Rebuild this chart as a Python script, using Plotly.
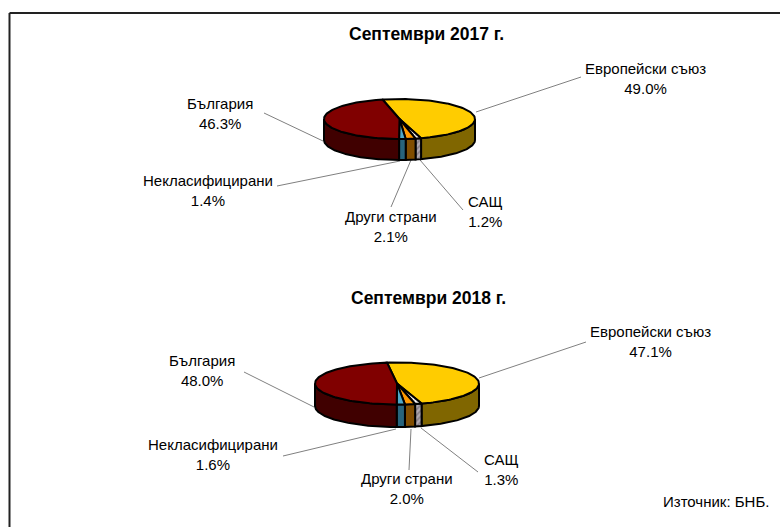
import numpy as np
import plotly.graph_objects as go

categories = ["Европейски съюз", "САЩ", "Други страни", "Некласифицирани", "България"]
values_2017 = [49.0, 1.2, 2.1, 1.4, 46.3]
values_2018 = [47.1, 1.3, 2.0, 1.6, 48.0]
titles = ["Септември 2017 г.", "Септември 2018 г."]
source = "Източник: БНБ."

top_colors = ["#FFCC00", "#FFFFFF", "#FF9900", "#4FA8C8", "#800000"]
side_colors = ["#806600", "#8A8088", "#804D00", "#28647C", "#400000"]

PIES = [
    dict(values=values_2017, title=titles[0], title_pos=(426, 34), cx=399.5, cy=119, rx=75.5, ry=20, depth=21, start=-13,
         labels=[(645, 78.5), (485, 211.5), (391, 226.5), (208, 190.5), (220, 113.5)],
         leaders=[((476, 112), (581, 77)), ((420, 160), (463, 210)), ((411, 160), (391, 207)),
                  ((400, 161), (277, 186)), ((323, 141), (264, 113))]),
    dict(values=values_2018, title=titles[1], title_pos=(428, 298), cx=397, cy=383.5, rx=82, ry=21, depth=22.5, start=-7,
         labels=[(650.5, 341.5), (501.5, 469.5), (406.5, 488.5), (213, 454.5), (202, 370.5)],
         leaders=[((479, 378), (586, 342)), ((421, 428), (478, 472)), ((411, 429), (409, 470)),
                  ((396, 429), (283, 456)), ((314, 407), (244, 372))]),
]
FONT = "Liberation Sans, Arial, sans-serif"

fig = go.Figure()


def ell(p, deg):
    t = np.radians(deg)
    return p["cx"] + p["rx"] * np.sin(t), p["cy"] - p["ry"] * np.cos(t)


annotations = []
shapes = [
    dict(type="line", x0=9.5, x1=780, y0=13, y1=13, line=dict(color="#222222", width=2)),
    dict(type="line", x0=9.5, x1=9.5, y0=13, y1=527, line=dict(color="#222222", width=2)),
]

for p in PIES:
    edges = p["start"] + np.concatenate([[0], np.cumsum(p["values"])]) * 3.6
    for a, b in p["leaders"]:
        fig.add_trace(go.Scatter(x=[a[0], b[0]], y=[a[1], b[1]], mode="lines",
                                 line=dict(color="#808080", width=1), hoverinfo="skip"))
    for i in range(len(categories)):
        a0, a1 = max(edges[i], 90), min(edges[i + 1], 270)
        if a1 <= a0:
            continue
        th = np.linspace(a0, a1, 80)
        x, y = ell(p, th)
        xs = np.concatenate([x, x[::-1], x[:1]])
        ys = np.concatenate([y, y[::-1] + p["depth"], y[:1]])
        kw = {}
        if i == 1:
            kw["fillpattern"] = dict(shape="/", fgcolor="#5A5058", bgcolor="#B0A8B0", size=4, solidity=0.4)
        fig.add_trace(go.Scatter(x=xs, y=ys, mode="lines", fill="toself", fillcolor=side_colors[i],
                                 line=dict(color="#000000", width=2), hoverinfo="skip", **kw))
    for i in range(len(categories)):
        th = np.linspace(edges[i], edges[i + 1], 100)
        x, y = ell(p, th)
        xs = np.concatenate([[p["cx"]], x, [p["cx"]]])
        ys = np.concatenate([[p["cy"]], y, [p["cy"]]])
        kw = {}
        if i == 1:
            kw["fillpattern"] = dict(shape="/", fgcolor="#A89098", bgcolor="#FFFFFF", size=3, solidity=0.4)
        fig.add_trace(go.Scatter(x=xs, y=ys, mode="lines", fill="toself", fillcolor=top_colors[i],
                                 line=dict(color="#000000", width=2), hoverinfo="skip", **kw))
    for name, v, pos in zip(categories, p["values"], p["labels"]):
        annotations.append(dict(x=pos[0], y=pos[1], text=f"{name}<br>{v:.1f}%", showarrow=False,
                                xanchor="center", yanchor="middle", align="center",
                                font=dict(family=FONT, size=15, color="#000000")))
    annotations.append(dict(x=p["title_pos"][0], y=p["title_pos"][1], text=f"<b>{p['title']}</b>",
                            showarrow=False, xanchor="center", yanchor="middle",
                            font=dict(family=FONT, size=17.5, color="#000000")))

annotations.append(dict(x=716, y=501, text=source, showarrow=False, xanchor="center", yanchor="middle",
                        font=dict(family=FONT, size=15, color="#000000")))

fig.update_layout(
    width=780, height=527, margin=dict(l=0, r=0, t=0, b=0),
    paper_bgcolor="#FFFFFF", plot_bgcolor="#FFFFFF", showlegend=False,
    xaxis=dict(range=[0, 780], visible=False, fixedrange=True),
    yaxis=dict(range=[527, 0], visible=False, fixedrange=True),
    annotations=annotations, shapes=shapes,
)
fig.write_html("out.html", config=dict(displayModeBar=False),
               post_script="document.body.style.margin='0';document.body.style.overflow='hidden';")
